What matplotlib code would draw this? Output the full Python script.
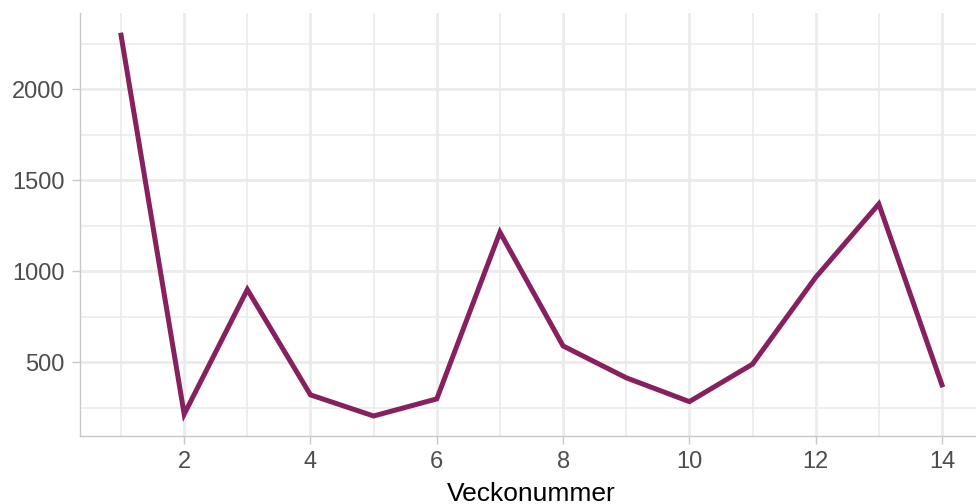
import numpy as np
from matplotlib import pyplot as plt

weeks = [1, 2, 3, 4, 5, 6, 7, 8, 9, 10, 11, 12, 13, 14]
counts = [2298, 215, 900, 321, 205, 299, 1215, 590, 415, 284, 490, 967, 1370, 376]
x_ticks = [2, 4, 6, 8, 10, 12, 14]
y_ticks = [500, 1000, 1500, 2000]

plt.rcParams['font.family'] = ['Liberation Sans', 'DejaVu Sans']

fig = plt.figure(figsize=(9.76, 5.04), dpi=100)
W, H = 976.0, 504.0
left, right, top, bottom = 80, 983, 13, 436
ax = fig.add_axes([left / W, 1 - bottom / H, (right - left) / W, (bottom - top) / H])

ax.plot(weeks, counts, color="#86205e", linewidth=3.6, solid_joinstyle="miter", zorder=3)

ax.set_xlim(0.35, 14.65)
ax.set_ylim(95, 2420)
ax.set_xticks(x_ticks)
ax.set_xticks([1, 3, 5, 7, 9, 11, 13], minor=True)
ax.set_yticks(y_ticks)
ax.set_yticks([250, 750, 1250, 1750, 2250], minor=True)

ax.grid(which="major", color="#ebebeb", linewidth=2.0)
ax.grid(which="minor", color="#ebebeb", linewidth=1.2)
ax.set_axisbelow(True)

for s in ["top", "right"]:
    ax.spines[s].set_visible(False)
for s in ["left", "bottom"]:
    ax.spines[s].set_color("#c8c8c8")
    ax.spines[s].set_linewidth(1.0)

ax.tick_params(which="major", length=6, width=1, color="#c8c8c8", labelsize=17, labelcolor="#4d4d4d", pad=5)
ax.tick_params(which="minor", length=0)
ax.set_xlabel("Veckonummer", fontsize=19, color="black", labelpad=6)

fig.savefig("out.png", dpi=100)
